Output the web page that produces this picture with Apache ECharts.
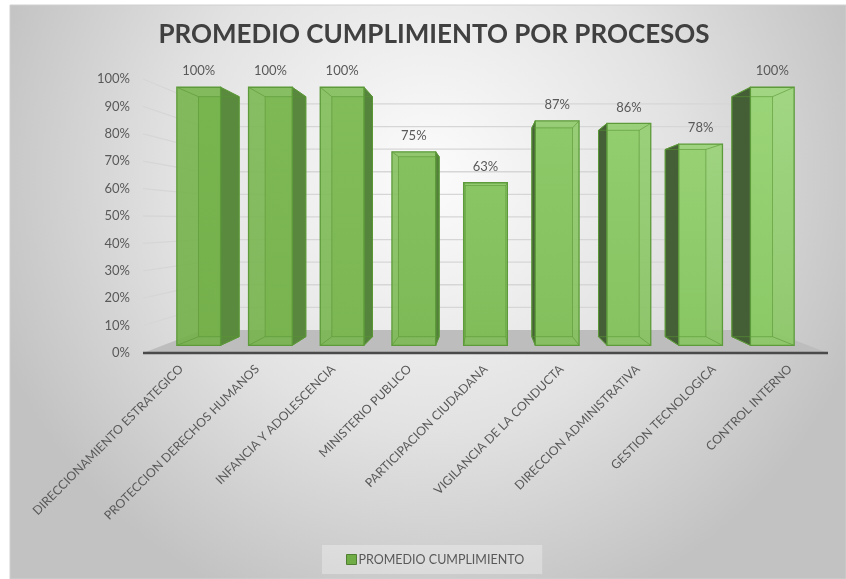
<!DOCTYPE html>
<html>
<head>
<meta charset="utf-8">
<title>Promedio cumplimiento por procesos</title>
<script src="https://cdn.jsdelivr.net/npm/echarts@6/dist/echarts.min.js"></script>
<style>
	html, body { margin: 0; padding: 0; background: #ffffff; }
	#main { width: 846px; height: 579px; }
</style>
</head>
<body>
<div id="main"></div>
<script>
var procesos = ['DIRECCIONAMIENTO ESTRATEGICO', 'PROTECCION DERECHOS HUMANOS', 'INFANCIA Y ADOLESCENCIA',
	'MINISTERIO PUBLICO', 'PARTICIPACION CIUDADANA', 'VIGILANCIA DE LA CONDUCTA',
	'DIRECCION ADMINISTRATIVA', 'GESTION TECNOLOGICA', 'CONTROL INTERNO'];
var cumplimiento = [1.00, 1.00, 1.00, 0.75, 0.63, 0.87, 0.86, 0.78, 1.00];
var ticks = [0, 0.1, 0.2, 0.3, 0.4, 0.5, 0.6, 0.7, 0.8, 0.9, 1.0];

var chart;
var option;

// perspective: front plane = grid, everything else shrinks toward vanishing point
var SF = 0.942, SB = 0.876, SW = 0.825;

function vanish(api) {
	return [api.coord([4, 0])[0], api.coord([0, 0.48])[1]];
}
function proj(vp, p, s) {
	return [vp[0] + (p[0] - vp[0]) * s, vp[1] + (p[1] - vp[1]) * s];
}
function mix(a, b, t) {
	return 'rgb(' + a.map(function (v, k) { return Math.round(v + (b[k] - v) * t); }).join(',') + ')';
}

function renderWalls(params, api) {
	var vp = vanish(api);
	var v = api.value(0);
	var left = params.coordSys.x, right = params.coordSys.x + params.coordSys.width;
	var y = api.coord([0, v])[1];
	var fl = [left, y], fr = [right, y];
	var bl = proj(vp, fl, SW), br = proj(vp, fr, SW);
	var children = [];
	if (v === 0) {
		children.push({
			type: 'polygon', shape: { points: [fl, fr, br, bl] },
			style: { fill: '#bdbdbd' }
		});
		children.push({
			type: 'line', shape: { x1: fl[0], y1: fl[1], x2: fr[0], y2: fr[1] },
			style: { stroke: '#4a4a4a', lineWidth: 2.5 }
		});
	} else {
		children.push({
			type: 'polyline', shape: { points: [fl, bl, br] },
			style: { stroke: '#d6d6d6', lineWidth: 1.3, fill: null }
		});
	}
	return { type: 'group', children: children };
}

function renderBar(params, api) {
	var vp = vanish(api);
	var i = api.value(0), v = api.value(1);
	var c0 = api.coord([i, 0]), c1 = api.coord([i, v]);
	var bw = api.size([1, 0])[0] * 0.61;
	var L = c0[0] - bw / 2, R = c0[0] + bw / 2;
	var p = {
		lb: [L, c0[1]], rb: [R, c0[1]], rt: [R, c1[1]], lt: [L, c1[1]]
	};
	var f = {}, b = {};
	Object.keys(p).forEach(function (k) { f[k] = proj(vp, p[k], SF); b[k] = proj(vp, p[k], SB); });
	var t = i / 8;
	var topCol = mix([120, 181, 78], [156, 214, 122], t);
	var botCol = mix([116, 176, 74], [138, 200, 100], t);
	var rightSide = c0[0] < vp[0];
	var side = rightSide ? [f.rt, b.rt, b.rb, f.rb] : [f.lt, b.lt, b.lb, f.lb];
	var sideCol = rightSide ? mix([90, 138, 62], [80, 125, 58], t * 2) : mix([72, 100, 56], [68, 94, 54], t);
	var edge = '#5d9a3a';
	var inner = 'rgba(88,150,52,0.6)';
	var children = [
		{ type: 'polygon', shape: { points: [b.lb, b.rb, b.rt, b.lt] }, style: { fill: botCol, opacity: 0.9 } },
		{ type: 'polygon', shape: { points: side }, style: { fill: sideCol, stroke: edge, lineWidth: 1 } },
		{
			type: 'polygon', shape: { points: [f.lb, f.rb, f.rt, f.lt] },
			style: {
				fill: new echarts.graphic.LinearGradient(0, 0, 0, 1, [
					{ offset: 0, color: topCol }, { offset: 1, color: botCol }
				]),
				opacity: 0.9
			}
		},
		{ type: 'polygon', shape: { points: [b.lb, b.rb, b.rt, b.lt] }, style: { fill: null, stroke: inner, lineWidth: 1 } },
		{ type: 'line', shape: { x1: f.lb[0], y1: f.lb[1], x2: b.lb[0], y2: b.lb[1] }, style: { stroke: inner, lineWidth: 1 } },
		{ type: 'line', shape: { x1: f.rb[0], y1: f.rb[1], x2: b.rb[0], y2: b.rb[1] }, style: { stroke: inner, lineWidth: 1 } },
		{ type: 'line', shape: { x1: f.lt[0], y1: f.lt[1], x2: b.lt[0], y2: b.lt[1] }, style: { stroke: inner, lineWidth: 1 } },
		{ type: 'line', shape: { x1: f.rt[0], y1: f.rt[1], x2: b.rt[0], y2: b.rt[1] }, style: { stroke: inner, lineWidth: 1 } },
		{ type: 'polygon', shape: { points: [f.lb, f.rb, f.rt, f.lt] }, style: { fill: null, stroke: edge, lineWidth: 1.3 } },
		{
			type: 'text',
			style: {
				x: (f.lt[0] + f.rt[0]) / 2, y: f.lt[1] - 16,
				text: Math.round(v * 100) + '%',
				align: 'center', verticalAlign: 'middle',
				fill: '#595959', font: '13px Lato'
			}
		}
	];
	return { type: 'group', children: children };
}

chart = echarts.init(document.getElementById('main'));

option = {
	animation: false,
	graphic: [{
		type: 'rect', z: -10, silent: true,
		shape: { x: 10, y: 5, width: 836, height: 574 },
		style: {
			fill: new echarts.graphic.RadialGradient(0.5, 0.3, 0.8, [
				{ offset: 0, color: '#fcfcfc' },
				{ offset: 0.55, color: '#e2e2e2' },
				{ offset: 1, color: '#c2c2c2' }
			]),
			stroke: '#d0d0d0'
		}
	}],
	title: {
		text: 'PROMEDIO CUMPLIMIENTO POR PROCESOS',
		left: 434,
		top: 22,
		padding: 0,
		textAlign: 'center',
		textStyle: { fontFamily: 'Lato', fontWeight: 'bold', fontSize: 26, color: '#404040' }
	},
	legend: {
		data: [{ name: 'PROMEDIO CUMPLIMIENTO', icon: 'rect', itemStyle: { color: '#70ad47', borderColor: '#507e32', borderWidth: 1 } }],
		left: 322,
		top: 545,
		padding: [8, 18, 8, 24],
		itemWidth: 10,
		itemHeight: 10,
		backgroundColor: 'rgba(255,255,255,0.3)',
		textStyle: { fontFamily: 'Lato', fontSize: 12.5, color: '#595959', padding: [0, 0, 0, -3] }
	},
	grid: { left: 143, right: 18, top: 79, bottom: 226 },
	xAxis: {
		type: 'category',
		data: procesos,
		axisLine: { show: false },
		axisTick: { show: false },
		axisLabel: { rotate: 45, margin: 14, interval: 0, fontFamily: 'Lato', fontSize: 12.3, color: '#595959' }
	},
	yAxis: {
		type: 'value',
		min: 0,
		max: 1,
		interval: 0.1,
		axisLine: { show: false },
		axisTick: { show: false },
		splitLine: { show: false },
		axisLabel: {
			margin: 13, fontFamily: 'Lato', fontSize: 13, color: '#595959',
			formatter: function (val) { return Math.round(val * 100) + '%'; }
		}
	},
	series: [{
		name: 'walls',
		type: 'custom',
		renderItem: renderWalls,
		data: ticks.map(function (v) { return [v]; }),
		encode: { y: 0 },
		silent: true,
		z: 1
	}, {
		name: 'PROMEDIO CUMPLIMIENTO',
		type: 'custom',
		renderItem: renderBar,
		data: cumplimiento.map(function (v, i) { return [i, v]; }),
		encode: { x: 0, y: 1 },
		itemStyle: { color: '#70ad47' },
		z: 2
	}]
};
chart.setOption(option);
</script>
</body>
</html>
